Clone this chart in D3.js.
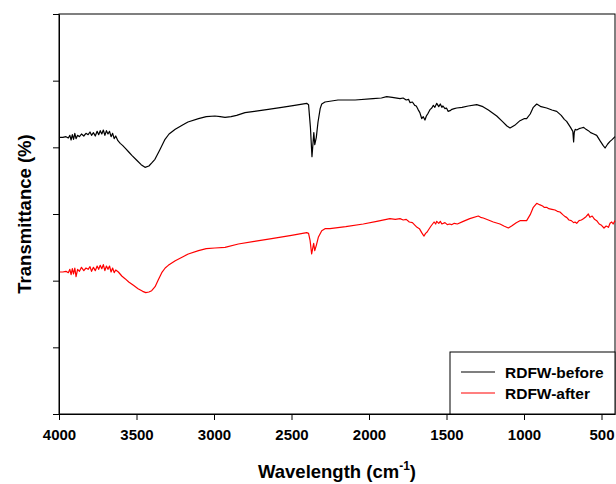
<!DOCTYPE html>
<html>
<head>
<meta charset="utf-8">
<script src="https://cdn.jsdelivr.net/npm/d3@7"></script>
<style>
  html, body { margin: 0; padding: 0; background: #fff; }
  svg { display: block; }
  text { font-family: Arial, "Liberation Sans", sans-serif; font-weight: bold; fill: #000; }
</style>
</head>
<body>
<svg id="chart" width="616" height="484"></svg>
<script>
// ---- data (wavenumber in cm-1, transmittance in arbitrary offset units) ----
const xTicks = [4000, 3500, 3000, 2500, 2000, 1500, 1000, 500];
const yTicks = [0, 1, 2, 3, 4, 5, 6];
const seriesNames = ["RDFW-before", "RDFW-after"];
const seriesColors = ["#000000", "#ff0000"];

const beforeSpectrum = [
  [4000,4.15],[3975,4.15],[3955,4.16],[3940,4.14],[3930,4.18],[3922,4.11],[3914,4.19],[3906,4.12],
  [3898,4.21],[3890,4.13],[3880,4.18],[3868,4.16],[3855,4.20],[3840,4.17],[3826,4.21],[3812,4.19],
  [3800,4.23],[3790,4.18],[3778,4.22],[3766,4.17],[3754,4.24],[3744,4.19],[3734,4.25],[3724,4.20],
  [3714,4.26],[3704,4.18],[3694,4.25],[3684,4.20],[3674,4.24],[3664,4.16],[3654,4.21],[3644,4.13],
  [3634,4.17],[3620,4.10],[3605,4.06],[3590,4.03],[3570,3.98],[3550,3.93],[3530,3.88],[3500,3.81],
  [3470,3.74],[3445,3.70],[3420,3.72],[3400,3.77],[3381,3.82],[3350,3.96],[3316,4.12],[3290,4.20],
  [3250,4.27],[3200,4.34],[3168,4.38],[3100,4.43],[3050,4.46],[2994,4.47],[2960,4.46],[2929,4.45],
  [2890,4.46],[2854,4.48],[2800,4.52],[2740,4.54],[2650,4.57],[2563,4.60],[2480,4.63],[2402,4.66],
  [2390,4.64],[2378,4.30],[2368,3.86],[2360,4.10],[2356,4.22],[2350,4.04],[2340,4.15],[2329,4.38],
  [2315,4.58],[2305,4.65],[2284,4.68],[2200,4.71],[2090,4.71],[1974,4.73],[1920,4.74],[1886,4.76],
  [1850,4.75],[1800,4.73],[1780,4.74],[1760,4.71],[1745,4.72],[1735,4.67],[1720,4.68],[1705,4.63],
  [1695,4.62],[1684,4.57],[1672,4.52],[1665,4.47],[1660,4.43],[1650,4.46],[1639,4.41],[1630,4.47],
  [1619,4.51],[1605,4.57],[1595,4.59],[1585,4.63],[1575,4.60],[1563,4.66],[1550,4.61],[1540,4.65],
  [1530,4.60],[1523,4.62],[1510,4.58],[1500,4.59],[1490,4.54],[1477,4.55],[1465,4.57],[1450,4.58],
  [1434,4.59],[1400,4.60],[1360,4.62],[1305,4.64],[1265,4.61],[1230,4.56],[1176,4.47],[1140,4.39],
  [1110,4.32],[1090,4.29],[1060,4.33],[1026,4.40],[1000,4.43],[983,4.43],[960,4.50],[940,4.60],
  [918,4.65],[890,4.61],[854,4.59],[820,4.56],[789,4.54],[760,4.48],[740,4.42],[725,4.39],
  [700,4.30],[685,4.24],[680,4.08],[676,4.22],[670,4.27],[660,4.26],[645,4.28],[630,4.29],
  [615,4.30],[600,4.27],[585,4.25],[570,4.22],[550,4.20],[531,4.18],[510,4.10],[490,4.03],
  [477,3.99],[460,4.05],[445,4.09],[430,4.12],[413,4.16]
];

const afterSpectrum = [
  [4000,2.13],[3975,2.13],[3955,2.14],[3940,2.12],[3930,2.17],[3922,2.09],[3914,2.18],[3906,2.10],
  [3898,2.19],[3890,2.06],[3880,2.17],[3868,2.14],[3855,2.20],[3840,2.15],[3826,2.19],[3812,2.17],
  [3800,2.21],[3790,2.14],[3778,2.20],[3766,2.15],[3754,2.22],[3744,2.17],[3734,2.23],[3724,2.18],
  [3714,2.24],[3704,2.15],[3694,2.22],[3684,2.17],[3674,2.22],[3664,2.13],[3654,2.19],[3644,2.12],
  [3634,2.16],[3617,2.13],[3595,2.07],[3574,2.03],[3550,1.98],[3520,1.93],[3490,1.88],[3460,1.84],
  [3440,1.82],[3420,1.83],[3402,1.85],[3380,1.91],[3360,2.01],[3337,2.12],[3315,2.19],[3295,2.23],
  [3250,2.30],[3200,2.36],[3166,2.40],[3100,2.45],[3050,2.48],[2994,2.49],[2929,2.50],[2843,2.55],
  [2740,2.59],[2628,2.63],[2500,2.68],[2402,2.72],[2390,2.71],[2380,2.60],[2370,2.40],[2362,2.50],
  [2357,2.56],[2350,2.45],[2340,2.53],[2327,2.65],[2305,2.75],[2284,2.78],[2252,2.78],[2150,2.81],
  [2037,2.85],[1950,2.89],[1865,2.93],[1830,2.92],[1800,2.93],[1779,2.91],[1760,2.92],[1740,2.88],
  [1720,2.87],[1703,2.83],[1690,2.80],[1675,2.78],[1660,2.72],[1652,2.69],[1645,2.67],[1635,2.71],
  [1625,2.73],[1617,2.76],[1600,2.82],[1590,2.85],[1580,2.88],[1570,2.85],[1563,2.89],[1550,2.86],
  [1540,2.89],[1530,2.85],[1510,2.87],[1495,2.84],[1480,2.85],[1467,2.84],[1450,2.86],[1430,2.85],
  [1392,2.89],[1350,2.93],[1295,2.97],[1280,2.95],[1263,2.94],[1230,2.91],[1198,2.88],[1155,2.85],
  [1130,2.82],[1101,2.79],[1080,2.82],[1050,2.87],[1026,2.90],[983,2.90],[960,2.99],[940,3.10],
  [918,3.16],[900,3.14],[880,3.12],[870,3.10],[854,3.10],[840,3.08],[820,3.07],[800,3.06],
  [785,3.04],[768,3.03],[750,2.99],[735,2.96],[725,2.95],[710,2.91],[695,2.90],[680,2.87],
  [671,2.88],[660,2.86],[645,2.90],[630,2.91],[617,2.93],[600,2.96],[585,3.00],[575,2.95],
  [560,2.97],[545,2.92],[531,2.90],[515,2.85],[500,2.83],[484,2.79],[470,2.82],[455,2.80],
  [445,2.86],[434,2.88],[425,2.85],[413,2.90]
];

// ---- layout ----
const svg = d3.select("#chart");
const mLeft = 59, mRight = 615, mTop = 14, mBottom = 414;

const x = d3.scaleLinear().domain([4000, 413]).range([mLeft, mRight]);
const y = d3.scaleLinear().domain([0, 6]).range([mBottom, mTop]);

// frame
svg.append("rect")
  .attr("x", mLeft).attr("y", mTop)
  .attr("width", mRight - mLeft).attr("height", mBottom - mTop)
  .attr("fill", "none").attr("stroke", "#000").attr("stroke-width", 1);

// curves
const line = d3.line().x(d => x(d[0])).y(d => y(d[1]));
[beforeSpectrum, afterSpectrum].forEach((s, i) => {
  svg.append("path")
    .datum(s)
    .attr("d", line)
    .attr("fill", "none")
    .attr("stroke", seriesColors[i])
    .attr("stroke-width", 1.2)
    .attr("stroke-linejoin", "round");
});

// x axis
const xAxis = svg.append("g")
  .attr("transform", `translate(0,${mBottom})`)
  .call(d3.axisBottom(x).tickValues(xTicks).tickFormat(d3.format("d"))
    .tickSize(6).tickPadding(9).tickSizeOuter(0));
xAxis.select(".domain").attr("stroke", "#000");
xAxis.selectAll(".tick line").attr("stroke", "#000");
xAxis.selectAll("text")
  .attr("font-size", "15px")
  .attr("font-weight", "bold")
  .attr("font-family", "Arial, 'Liberation Sans', sans-serif")
  .attr("fill", "#000");

// y axis (ticks only, no labels)
const yAxis = svg.append("g")
  .attr("transform", `translate(${mLeft},0)`)
  .call(d3.axisLeft(y).tickValues(yTicks).tickSize(6).tickFormat("").tickSizeOuter(0));
yAxis.select(".domain").attr("stroke", "#000");
yAxis.selectAll(".tick line").attr("stroke", "#000");

// axis titles
const xt = svg.append("text")
  .attr("x", (mLeft + mRight) / 2)
  .attr("y", 478)
  .attr("text-anchor", "middle")
  .attr("font-size", "18.5px");
xt.append("tspan").text("Wavelength (cm");
xt.append("tspan").attr("font-size", "12px").attr("dy", "-8").text("-1");
xt.append("tspan").attr("dy", "8").text(")");

svg.append("text")
  .attr("transform", `translate(31,${(mTop + mBottom) / 2}) rotate(-90)`)
  .attr("text-anchor", "middle")
  .attr("font-size", "18.5px")
  .text("Transmittance (%)");

// legend
const lg = svg.append("g");
lg.append("rect")
  .attr("x", 450).attr("y", 352)
  .attr("width", mRight - 450).attr("height", mBottom - 352)
  .attr("fill", "#fff").attr("stroke", "#000").attr("stroke-width", 1);
seriesNames.forEach((n, i) => {
  const ly = 372 + i * 21;
  lg.append("line")
    .attr("x1", 461).attr("x2", 495)
    .attr("y1", ly).attr("y2", ly)
    .attr("stroke", seriesColors[i]).attr("stroke-width", 1.2);
  lg.append("text")
    .attr("x", 505).attr("y", ly + 5.5)
    .attr("font-size", "15.5px")
    .text(n);
});
</script>
</body>
</html>
